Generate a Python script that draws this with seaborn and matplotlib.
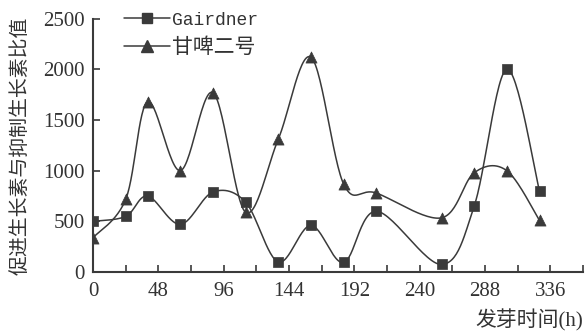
import numpy as np
import pandas as pd
import seaborn as sns
import matplotlib.pyplot as plt
from matplotlib.lines import Line2D

# germination time (h) and the promoter / inhibitor ratio
hours = [0, 24, 40, 64, 88, 112, 136, 160, 184, 208, 256, 280, 304, 328]
gairdner = [500, 550, 750, 470, 790, 690, 100, 460, 95, 600, 75, 650, 2000, 800]
ganpi2 = [340, 720, 1680, 1000, 1770, 590, 1310, 2120, 870, 780, 535, 980, 1000, 510]

x_ticks = [0, 48, 96, 144, 192, 240, 288, 336]
y_ticks = [0, 500, 1000, 1500, 2000, 2500]


def smooth(x, y, n=30):
    # catmull-rom curve through the points, like a "smoothed line" in excel
    p = np.column_stack([x, y]).astype(float)
    p = np.vstack([p[0], p, p[-1]])
    t = np.linspace(0, 1, n)[:, None]
    out = []
    for i in range(1, len(p) - 2):
        p0, p1, p2, p3 = p[i - 1], p[i], p[i + 1], p[i + 2]
        seg = 0.5 * ((2 * p1) + (-p0 + p2) * t + (2 * p0 - 5 * p1 + 4 * p2 - p3) * t ** 2
                     + (-p0 + 3 * p1 - 3 * p2 + p3) * t ** 3)
        out.append(seg if i == 1 else seg[1:])
    out = np.vstack(out)
    return out[:, 0], out[:, 1]


sns.set_style('white')
plt.rcParams['font.family'] = ['Liberation Serif', 'Noto Sans CJK SC', 'DejaVu Sans']

fig = plt.figure(figsize=(5.86, 3.33), dpi=100)
ax = fig.add_axes([0.159, 0.183, 0.836, 0.761])

col = '#3a3a3a'
for vals, mk, ms in [(gairdner, 's', 7.5), (ganpi2, '^', 8)]:
    sx, sy = smooth(hours, vals)
    curve = pd.DataFrame({'x': sx, 'y': sy})
    sns.lineplot(data=curve, x='x', y='y', sort=False, color=col, lw=1.1, ax=ax)
    pts = pd.DataFrame({'x': hours, 'y': vals})
    sns.scatterplot(data=pts, x='x', y='y', marker=mk, s=ms ** 2, color=col,
                    edgecolor=col, linewidth=0.5, ax=ax, zorder=5)

ax.set_xlim(0, 360)
ax.set_ylim(0, 2500)
ax.set_xticks(x_ticks)
ax.set_xticks(np.arange(24, 361, 48), minor=True)
ax.set_yticks(y_ticks)
ax.tick_params(axis='both', which='both', direction='in', length=5, width=1.2,
               colors=col, labelsize=15, labelcolor='#333333')
ax.tick_params(axis='x', which='both', pad=7, bottom=True)
ax.tick_params(axis='y', pad=6, left=True)

for s in ['top', 'right']:
    ax.spines[s].set_visible(False)
for s in ['left', 'bottom']:
    ax.spines[s].set_color(col)
    ax.spines[s].set_linewidth(1.5)

ax.set_ylabel('促进生长素与抑制生长素比值', fontsize=14.3, color='#333333')
ax.yaxis.set_label_coords(-0.128, 0.5)
ax.set_xlabel('发芽时间(h)', fontsize=15, color='#333333', loc='right', labelpad=6)

handles = [Line2D([], [], color=col, lw=1.1, marker='s', ms=7.5),
           Line2D([], [], color=col, lw=1.1, marker='^', ms=8)]
leg = ax.legend(handles, ['Gairdner', '甘啤二号'], loc='upper left',
                bbox_to_anchor=(0.025, 1.105), frameon=False, handlelength=2.2,
                handletextpad=0.1, labelspacing=0.45, fontsize=15)
leg.get_texts()[0].set_fontfamily('Liberation Mono')
leg.get_texts()[0].set_fontsize(13)
for t in leg.get_texts():
    t.set_color('#333333')

fig.savefig('out.png', dpi=100)
